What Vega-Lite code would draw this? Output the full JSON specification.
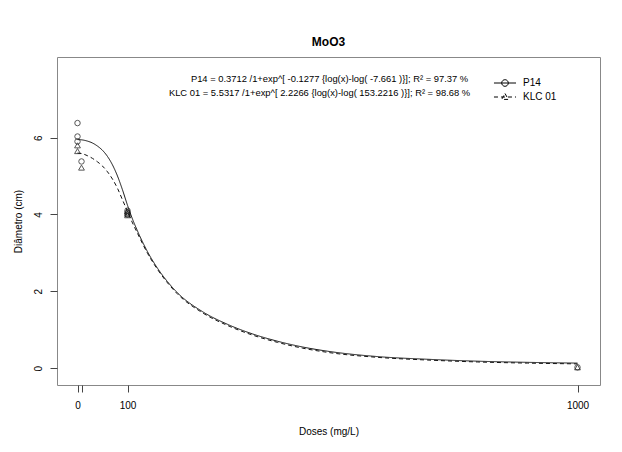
{
  "$schema": "https://vega.github.io/schema/vega-lite/v6.json",
  "width": 543,
  "height": 328,
  "autosize": {"type": "none"},
  "padding": {"left": 57, "top": 57, "right": 22, "bottom": 67},
  "background": "white",
  "title": {"text": "MoO3", "fontSize": 12, "fontWeight": "bold", "font": "Liberation Sans", "anchor": "middle", "offset": 8, "color": "#000"},
  "config": {
    "view": {"stroke": "#888", "strokeWidth": 1},
    "font": "Liberation Sans",
    "axis": {"grid": false, "domain": false, "tickColor": "#444", "tickSize": 7, "labelFontSize": 10, "labelColor": "#000", "titleFontSize": 10, "titleFontWeight": "normal", "titleColor": "#000", "labelFont": "Liberation Sans", "titleFont": "Liberation Sans"}
  },
  "datasets": {
    "fit": [
      {"series": "P14", "dose": 0, "value": 5.95},
      {"series": "P14", "dose": 10, "value": 5.94},
      {"series": "P14", "dose": 20, "value": 5.91},
      {"series": "P14", "dose": 30, "value": 5.86},
      {"series": "P14", "dose": 40, "value": 5.78},
      {"series": "P14", "dose": 50, "value": 5.67},
      {"series": "P14", "dose": 60, "value": 5.51},
      {"series": "P14", "dose": 70, "value": 5.29},
      {"series": "P14", "dose": 80, "value": 5.0},
      {"series": "P14", "dose": 90, "value": 4.64},
      {"series": "P14", "dose": 100, "value": 4.24},
      {"series": "P14", "dose": 110, "value": 3.88},
      {"series": "P14", "dose": 120, "value": 3.57},
      {"series": "P14", "dose": 140, "value": 3.03},
      {"series": "P14", "dose": 160, "value": 2.6},
      {"series": "P14", "dose": 180, "value": 2.25},
      {"series": "P14", "dose": 200, "value": 1.96},
      {"series": "P14", "dose": 250, "value": 1.47},
      {"series": "P14", "dose": 300, "value": 1.14},
      {"series": "P14", "dose": 350, "value": 0.89},
      {"series": "P14", "dose": 400, "value": 0.7},
      {"series": "P14", "dose": 450, "value": 0.55},
      {"series": "P14", "dose": 500, "value": 0.44},
      {"series": "P14", "dose": 600, "value": 0.3},
      {"series": "P14", "dose": 700, "value": 0.23},
      {"series": "P14", "dose": 800, "value": 0.18},
      {"series": "P14", "dose": 900, "value": 0.15},
      {"series": "P14", "dose": 1000, "value": 0.13},
      {"series": "KLC 01", "dose": 0, "value": 5.6},
      {"series": "KLC 01", "dose": 10, "value": 5.58},
      {"series": "KLC 01", "dose": 20, "value": 5.53},
      {"series": "KLC 01", "dose": 30, "value": 5.46},
      {"series": "KLC 01", "dose": 40, "value": 5.37},
      {"series": "KLC 01", "dose": 50, "value": 5.26},
      {"series": "KLC 01", "dose": 60, "value": 5.11},
      {"series": "KLC 01", "dose": 70, "value": 4.92},
      {"series": "KLC 01", "dose": 80, "value": 4.68},
      {"series": "KLC 01", "dose": 90, "value": 4.38},
      {"series": "KLC 01", "dose": 100, "value": 4.08},
      {"series": "KLC 01", "dose": 110, "value": 3.78},
      {"series": "KLC 01", "dose": 120, "value": 3.51},
      {"series": "KLC 01", "dose": 140, "value": 2.99},
      {"series": "KLC 01", "dose": 160, "value": 2.57},
      {"series": "KLC 01", "dose": 180, "value": 2.22},
      {"series": "KLC 01", "dose": 200, "value": 1.93},
      {"series": "KLC 01", "dose": 250, "value": 1.44},
      {"series": "KLC 01", "dose": 300, "value": 1.11},
      {"series": "KLC 01", "dose": 350, "value": 0.86},
      {"series": "KLC 01", "dose": 400, "value": 0.67},
      {"series": "KLC 01", "dose": 450, "value": 0.52},
      {"series": "KLC 01", "dose": 500, "value": 0.41},
      {"series": "KLC 01", "dose": 600, "value": 0.28},
      {"series": "KLC 01", "dose": 700, "value": 0.21},
      {"series": "KLC 01", "dose": 800, "value": 0.16},
      {"series": "KLC 01", "dose": 900, "value": 0.13},
      {"series": "KLC 01", "dose": 1000, "value": 0.11}
    ],
    "obs": [
      {"series": "P14", "dose": 0, "value": 6.38},
      {"series": "P14", "dose": 0, "value": 6.03},
      {"series": "P14", "dose": 0, "value": 5.9},
      {"series": "P14", "dose": 8, "value": 5.38},
      {"series": "P14", "dose": 100, "value": 4.1},
      {"series": "P14", "dose": 100, "value": 4.05},
      {"series": "P14", "dose": 100, "value": 4.0},
      {"series": "P14", "dose": 1000, "value": 0.02},
      {"series": "KLC 01", "dose": 0, "value": 5.8},
      {"series": "KLC 01", "dose": 0, "value": 5.65},
      {"series": "KLC 01", "dose": 8, "value": 5.22},
      {"series": "KLC 01", "dose": 100, "value": 4.08},
      {"series": "KLC 01", "dose": 100, "value": 4.02},
      {"series": "KLC 01", "dose": 100, "value": 3.98},
      {"series": "KLC 01", "dose": 1000, "value": 0.02}
    ],
    "notes": [
      {"label": "P14 = 0.3712 /1+exp^[ -0.1277 {log(x)-log( -7.661 )}]; R² =  97.37 %", "dose": 504, "value": 7.54},
      {"label": "KLC 01 = 5.5317 /1+exp^[ 2.2266 {log(x)-log( 153.2216 )}]; R² =  98.68 %", "dose": 484, "value": 7.15}
    ]
  },
  "layer": [
    {
      "data": {"name": "fit"},
      "mark": {"type": "line", "color": "#111", "strokeWidth": 1, "interpolate": "monotone"},
      "encoding": {
        "x": {"field": "dose", "type": "quantitative", "scale": {"domain": [-41, 1045], "nice": false, "zero": false},
              "axis": {"values": [0, 8, 100, 1000], "format": "d", "labelExpr": "datum.value == 8 ? '' : datum.label", "title": "Doses (mg/L)", "labelPadding": 8, "titlePadding": 16}},
        "y": {"field": "value", "type": "quantitative", "scale": {"domain": [-0.44, 8.1], "nice": false, "zero": false},
              "axis": {"values": [0, 2, 4, 6], "labelAngle": -90, "labelAlign": "center", "labelBaseline": "bottom", "labelPadding": 7, "title": "Diâmetro (cm)", "titlePadding": 10}},
        "strokeDash": {"field": "series", "type": "nominal", "scale": {"domain": ["P14", "KLC 01"], "range": [[1, 0], [4, 3]]},
          "legend": {"title": null, "orient": "none", "legendX": 440, "legendY": 18, "labelFontSize": 10, "labelColor": "#000", "symbolSize": 225, "symbolStrokeColor": "#000", "symbolStrokeWidth": 1, "symbolFillColor": "transparent", "rowPadding": 0, "labelOffset": 10, "padding": 0,
            "encode": {"symbols": {"update": {"shape": {"signal": "datum.value === 'P14' ? 'M-1.47,0H1.47M0.44,0A0.44,0.44,0,1,1,-0.44,0A0.44,0.44,0,1,1,0.44,0' : 'M-1.47,0H1.47M0,-0.47L0.44,0.32L-0.44,0.32Z'"}}}}}
        },
        "detail": {"field": "series"}
      }
    },
    {
      "data": {"name": "obs"},
      "transform": [{"filter": "datum.series === 'P14'"}],
      "mark": {"type": "point", "shape": "circle", "filled": false, "color": "#111", "strokeWidth": 1, "size": 30},
      "encoding": {
        "x": {"field": "dose", "type": "quantitative"},
        "y": {"field": "value", "type": "quantitative"}
      }
    },
    {
      "data": {"name": "obs"},
      "transform": [{"filter": "datum.series === 'KLC 01'"}],
      "mark": {"type": "point", "shape": "triangle-up", "filled": false, "color": "#111", "strokeWidth": 1, "size": 34},
      "encoding": {
        "x": {"field": "dose", "type": "quantitative"},
        "y": {"field": "value", "type": "quantitative"}
      }
    },
    {
      "data": {"name": "notes"},
      "mark": {"type": "text", "fontSize": 9.4, "color": "#000", "align": "center", "baseline": "middle"},
      "encoding": {
        "x": {"field": "dose", "type": "quantitative"},
        "y": {"field": "value", "type": "quantitative"},
        "text": {"field": "label"}
      }
    }
  ]
}
